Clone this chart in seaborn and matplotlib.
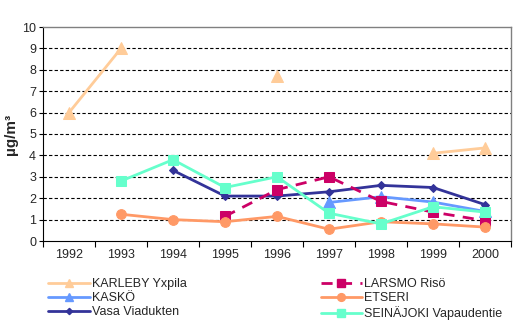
import numpy as np
import pandas as pd
import matplotlib
matplotlib.use("Agg")
import matplotlib.pyplot as plt
import seaborn as sns
from matplotlib.lines import Line2D

years = [1992, 1993, 1994, 1995, 1996, 1997, 1998, 1999, 2000]
nan = np.nan
karleby = [6.0, 9.0, nan, nan, 7.7, nan, nan, 4.1, 4.35]
larsmo = [nan, nan, nan, 1.15, 2.4, 3.0, 1.85, 1.35, 0.95]
kasko = [nan, nan, nan, nan, nan, 1.8, 2.07, 1.82, 1.38]
etseri = [nan, 1.25, 1.0, 0.9, 1.15, 0.55, 0.9, 0.8, 0.65]
vasa = [nan, nan, 3.3, 2.1, 2.1, 2.3, 2.6, 2.5, 1.7]
seinajoki = [nan, 2.8, 3.8, 2.5, 3.0, 1.3, 0.8, 1.6, 1.35]

series = [
    ("KARLEBY Yxpila", karleby, "#FFCC99", "^", 8, "-"),
    ("KASKÖ", kasko, "#6699FF", "^", 8, "-"),
    ("Vasa Viadukten", vasa, "#333399", "D", 4, "-"),
    ("LARSMO Risö", larsmo, "#CC0066", "s", 6.5, "--"),
    ("ETSERI", etseri, "#FF9966", "o", 7, "-"),
    ("SEINÄJOKI Vapaudentie", seinajoki, "#66FFCC", "s", 7, "-"),
]

sns.set_theme(style="white")
plt.rcParams['font.family'] = ['Liberation Sans', 'DejaVu Sans']

fig = plt.figure(figsize=(5.17, 3.33), dpi=100)
ax = fig.add_axes([43/517, 1 - 241/333, (511-43)/517, (241-27)/333])

handles = []
for name, vals, color, marker, ms, ls in series:
    df = pd.DataFrame({"year": years, "v": vals})
    seg_id = df["v"].isna().cumsum()
    for _, seg in df[df["v"].notna()].groupby(seg_id[df["v"].notna()]):
        kw = dict(color=color, marker=marker, markersize=ms, linewidth=2,
                  markeredgecolor=color, ax=ax, legend=False)
        if ls == "--":
            sns.lineplot(data=seg, x="year", y="v", linestyle=(0, (4, 3)), **kw)
        else:
            sns.lineplot(data=seg, x="year", y="v", **kw)
    handles.append(Line2D([], [], color=color, marker=marker, markersize=ms * 0.8,
                          markeredgecolor=color, linewidth=2,
                          linestyle=(0, (4, 3)) if ls == "--" else "-",
                          label=name))

ax.set_xlim(1991.5, 2000.5)
ax.set_ylim(0, 10)
ax.set_yticks(range(0, 11))
ax.set_xticks(years)
ax.set_xticks(np.arange(1991.5, 2001, 1), minor=True)
ax.tick_params(axis="x", which="major", length=0, labelsize=9, pad=6)
ax.tick_params(axis="x", which="minor", length=4, width=0.8, color="black", direction="out", bottom=True)
ax.tick_params(axis="y", length=3, width=0.8, color="black", direction="out", left=True, labelsize=9, pad=2)
ax.set_xlabel("")
ax.set_ylabel("µg/m³", fontsize=11, fontweight="bold", labelpad=3)
for y in range(1, 10):
    ax.axhline(y, color="black", linestyle=(0, (3, 2)), linewidth=0.8, zorder=0)
for side in ["top", "right"]:
    ax.spines[side].set_color("#808080")
    ax.spines[side].set_linewidth(1)
for side in ["left", "bottom"]:
    ax.spines[side].set_color("black")
    ax.spines[side].set_linewidth(0.8)

fig.legend(handles=handles, ncol=2, loc="upper left", bbox_to_anchor=(42/517, 1 - 272/333),
           frameon=False, fontsize=9, handlelength=3.3, handletextpad=0.2,
           columnspacing=10.7, labelspacing=0.15, borderpad=0)

fig.savefig("out.png", dpi=100)
